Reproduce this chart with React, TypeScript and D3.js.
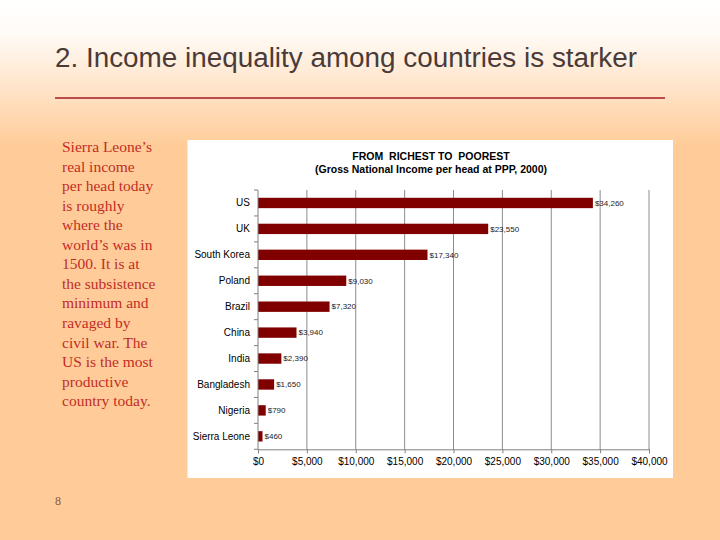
import { useEffect, useRef } from 'react';
import * as d3 from 'd3';

const countries = ['US', 'UK', 'South Korea', 'Poland', 'Brazil', 'China', 'India', 'Bangladesh', 'Nigeria', 'Sierra Leone'];
const incomes = [34260, 23550, 17340, 9030, 7320, 3940, 2390, 1650, 790, 460];
const xTicks = [0, 5000, 10000, 15000, 20000, 25000, 30000, 35000, 40000];
const noteLines = [
    'Sierra Leone\u2019s',
    'real income',
    'per head today',
    'is roughly',
    'where the',
    'world\u2019s was in',
    '1500. It is at',
    'the subsistence',
    'minimum and',
    'ravaged by',
    'civil war. The',
    'US is the most',
    'productive',
    'country today.',
];

const W = 720;
const H = 540;
const plot = { left: 258, right: 649, top: 190, bottom: 449.3 };

const App = () => {
    const svgRef = useRef<SVGSVGElement>(null);

    useEffect(() => {
        const svg = d3.select(svgRef.current);
        svg.selectAll('*').remove();

        const defs = svg.append('defs');
        const grad = defs
            .append('linearGradient')
            .attr('id', 'bg')
            .attr('x1', 0)
            .attr('y1', 0)
            .attr('x2', 0)
            .attr('y2', 1);
        grad.append('stop').attr('offset', '0').attr('stop-color', '#ffffff');
        grad.append('stop').attr('offset', '0.06').attr('stop-color', '#fffbf7');
        grad.append('stop').attr('offset', '0.27').attr('stop-color', '#ffcc99');
        grad.append('stop').attr('offset', '1').attr('stop-color', '#ffcc99');

        svg.append('rect').attr('width', W).attr('height', H).attr('fill', 'url(#bg)');

        // slide title
        svg.append('text')
            .attr('x', 55)
            .attr('y', 67)
            .attr('font-family', '"Liberation Sans Narrow", "Liberation Sans", Arial, sans-serif')
            .attr('font-size', 27)
            .attr('fill', '#4a3b38')
            .attr('textLength', 582)
            .attr('lengthAdjust', 'spacingAndGlyphs')
            .text('2. Income inequality among countries is starker');

        svg.append('line')
            .attr('x1', 55)
            .attr('x2', 665)
            .attr('y1', 98)
            .attr('y2', 98)
            .attr('stroke', '#a31d26')
            .attr('stroke-width', 1.5);

        // side note
        svg.append('g')
            .selectAll('text')
            .data(noteLines)
            .join('text')
            .attr('x', 62)
            .attr('y', (_d, i) => 152 + i * 19.55)
            .attr('font-family', '"Liberation Serif", "Times New Roman", serif')
            .attr('font-size', 15.5)
            .attr('fill', '#c22c26')
            .text(d => d);

        svg.append('text')
            .attr('x', 55)
            .attr('y', 505)
            .attr('font-family', '"Liberation Serif", "Times New Roman", serif')
            .attr('font-size', 12)
            .attr('fill', '#8a5a40')
            .text('8');

        // chart box
        svg.append('rect')
            .attr('x', 187.5)
            .attr('y', 140)
            .attr('width', 485.5)
            .attr('height', 338)
            .attr('fill', '#ffffff');

        const title = svg
            .append('text')
            .attr('text-anchor', 'middle')
            .attr('font-family', '"Liberation Sans", Arial, sans-serif')
            .attr('font-weight', 'bold')
            .attr('font-size', 10.5)
            .attr('fill', '#000');
        title.append('tspan').attr('x', 431).attr('y', 160).attr('xml:space', 'preserve').text('FROM  RICHEST TO  POOREST');
        title.append('tspan').attr('x', 431).attr('y', 173).text('(Gross National Income per head at PPP, 2000)');

        const x = d3.scaleLinear().domain([0, 40000]).range([plot.left, plot.right]);
        const y = d3
            .scaleBand()
            .domain(countries)
            .range([plot.top, plot.bottom])
            .paddingInner(0.6)
            .paddingOuter(0.3);

        const font = '"Liberation Sans", Arial, sans-serif';

        // gridlines
        svg.append('g')
            .selectAll('line')
            .data(xTicks.slice(1))
            .join('line')
            .attr('x1', d => x(d))
            .attr('x2', d => x(d))
            .attr('y1', plot.top)
            .attr('y2', plot.bottom)
            .attr('stroke', '#8c8c8c')
            .attr('stroke-width', 1);

        // bars
        svg.append('g')
            .selectAll('rect')
            .data(countries)
            .join('rect')
            .attr('x', x(0))
            .attr('y', d => y(d) ?? 0)
            .attr('width', (_d, i) => x(incomes[i]) - x(0))
            .attr('height', y.bandwidth())
            .attr('fill', '#800000');

        // value labels
        svg.append('g')
            .selectAll('text')
            .data(countries)
            .join('text')
            .attr('x', (_d, i) => x(incomes[i]) + 2)
            .attr('y', d => (y(d) ?? 0) + y.bandwidth() / 2)
            .attr('dy', '0.35em')
            .attr('font-family', font)
            .attr('font-size', 8)
            .attr('fill', '#222')
            .text((_d, i) => '$' + d3.format(',')(incomes[i]));

        // left axis with ticks between categories
        const step = y.step();
        const boundaries = d3.range(countries.length + 1).map(i => plot.top + i * step);
        const left = svg.append('g');
        left.append('line')
            .attr('x1', plot.left)
            .attr('x2', plot.left)
            .attr('y1', plot.top)
            .attr('y2', plot.bottom)
            .attr('stroke', '#808080');
        left.selectAll('line.tick')
            .data(boundaries)
            .join('line')
            .attr('class', 'tick')
            .attr('x1', plot.left - 4)
            .attr('x2', plot.left)
            .attr('y1', d => d)
            .attr('y2', d => d)
            .attr('stroke', '#808080');
        left.selectAll('text')
            .data(countries)
            .join('text')
            .attr('x', plot.left - 8)
            .attr('y', d => (y(d) ?? 0) + y.bandwidth() / 2)
            .attr('dy', '0.35em')
            .attr('text-anchor', 'end')
            .attr('font-family', font)
            .attr('font-size', 10)
            .attr('fill', '#000')
            .text(d => d);

        // bottom axis
        const bottom = svg
            .append('g')
            .attr('transform', `translate(0,${plot.bottom})`)
            .call(
                d3
                    .axisBottom(x)
                    .tickValues(xTicks)
                    .tickSize(4)
                    .tickPadding(5)
                    .tickFormat(d => '$' + d3.format(',')(d as number))
            );
        bottom.select('.domain').attr('stroke', '#808080');
        bottom.selectAll('.tick line').attr('stroke', '#808080');
        bottom.selectAll('.tick text')
            .attr('font-family', font)
            .attr('font-size', 10)
            .attr('fill', '#000');
    }, []);

    return (
        <svg
            ref={svgRef}
            width={W}
            height={H}
            style={{ position: 'absolute', left: 0, top: 0, display: 'block' }}
        />
    );
};

export default App;
